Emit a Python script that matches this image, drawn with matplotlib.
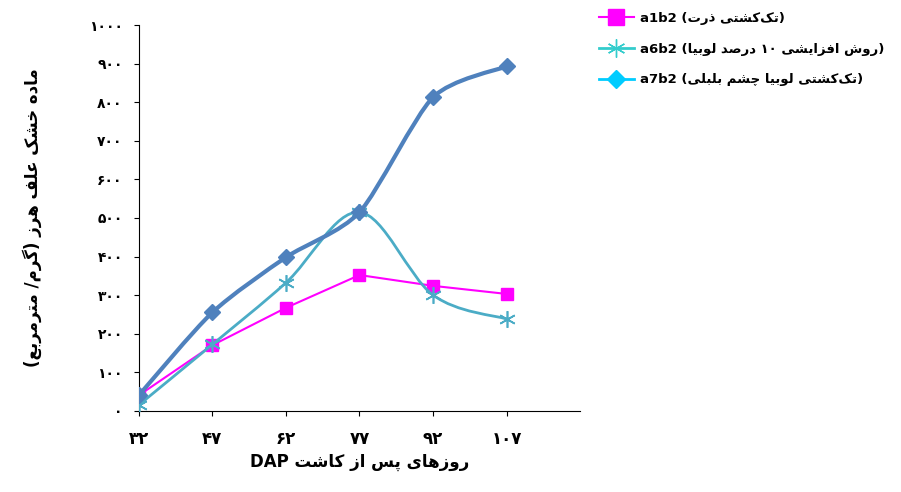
import matplotlib
matplotlib.use("Agg")
import matplotlib.pyplot as plt
from matplotlib.lines import Line2D
from matplotlib.path import Path
from matplotlib.patches import PathPatch

# =============================================================================
# data
# =============================================================================
days = ['۳۲', '۴۷', '۶۲', '۷۷', '۹۲', '۱۰۷']
a1b2 = [40, 170, 267, 352, 324, 303]
a6b2 = [15, 172, 332, 515, 300, 238]
a7b2 = [40, 255, 398, 515, 813, 893]
yticks = [0, 100, 200, 300, 400, 500, 600, 700, 800, 900, 1000]

# =============================================================================
# tiny Persian shaper (matplotlib does no Arabic shaping)
# =============================================================================
F = {
    'ا': (0xFE8D, 0xFE8E, None, None), 'ب': (0xFE8F, 0xFE90, 0xFE91, 0xFE92),
    'ت': (0xFE95, 0xFE96, 0xFE97, 0xFE98), 'ث': (0xFE99, 0xFE9A, 0xFE9B, 0xFE9C),
    'ج': (0xFE9D, 0xFE9E, 0xFE9F, 0xFEA0), 'ح': (0xFEA1, 0xFEA2, 0xFEA3, 0xFEA4),
    'خ': (0xFEA5, 0xFEA6, 0xFEA7, 0xFEA8), 'د': (0xFEA9, 0xFEAA, None, None),
    'ذ': (0xFEAB, 0xFEAC, None, None), 'ر': (0xFEAD, 0xFEAE, None, None),
    'ز': (0xFEAF, 0xFEB0, None, None), 'س': (0xFEB1, 0xFEB2, 0xFEB3, 0xFEB4),
    'ش': (0xFEB5, 0xFEB6, 0xFEB7, 0xFEB8), 'ص': (0xFEB9, 0xFEBA, 0xFEBB, 0xFEBC),
    'ض': (0xFEBD, 0xFEBE, 0xFEBF, 0xFEC0), 'ط': (0xFEC1, 0xFEC2, 0xFEC3, 0xFEC4),
    'ظ': (0xFEC5, 0xFEC6, 0xFEC7, 0xFEC8), 'ع': (0xFEC9, 0xFECA, 0xFECB, 0xFECC),
    'غ': (0xFECD, 0xFECE, 0xFECF, 0xFED0), 'ف': (0xFED1, 0xFED2, 0xFED3, 0xFED4),
    'ق': (0xFED5, 0xFED6, 0xFED7, 0xFED8), 'ل': (0xFEDD, 0xFEDE, 0xFEDF, 0xFEE0),
    'م': (0xFEE1, 0xFEE2, 0xFEE3, 0xFEE4), 'ن': (0xFEE5, 0xFEE6, 0xFEE7, 0xFEE8),
    'ه': (0xFEE9, 0xFEEA, 0xFEEB, 0xFEEC), 'و': (0xFEED, 0xFEEE, None, None),
    'ی': (0xFBFC, 0xFBFD, 0xFBFE, 0xFBFF), 'ک': (0xFB8E, 0xFB8F, 0xFB90, 0xFB91),
    'گ': (0xFB92, 0xFB93, 0xFB94, 0xFB95), 'پ': (0xFB56, 0xFB57, 0xFB58, 0xFB59),
    'چ': (0xFB7A, 0xFB7B, 0xFB7C, 0xFB7D),
}


def fa(s):
    out = []
    for i, c in enumerate(s):
        if c not in F:
            if c != '\u200c':
                out.append(c)
            continue
        p = s[i - 1] if i > 0 else ''
        n = s[i + 1] if i + 1 < len(s) else ''
        jp = p in F and F[p][2] is not None
        jn = F[c][2] is not None and n in F
        f = F[c]
        g = f[3] if (jp and jn) else f[1] if jp else f[2] if jn else f[0]
        out.append(chr(g))
    # reverse, keep digit runs in order, mirror brackets
    toks, cur = [], ''
    for c in out:
        if c.isdigit():
            cur += c
        else:
            if cur:
                toks.append(cur)
                cur = ''
            toks.append({'(': ')', ')': '('}.get(c, c))
    if cur:
        toks.append(cur)
    return ''.join(toks[::-1])


def smooth_path(xs, ys, k=1/6.):
    # Catmull-Rom through the points, like Excel's smoothed line
    verts = [(xs[0], ys[0])]
    codes = [Path.MOVETO]
    n = len(xs)
    for i in range(n - 1):
        x0, y0 = (xs[i - 1], ys[i - 1]) if i > 0 else (xs[i], ys[i])
        x3, y3 = (xs[i + 2], ys[i + 2]) if i + 2 < n else (xs[i + 1], ys[i + 1])
        c1 = (xs[i] + (xs[i + 1] - x0) * k, ys[i] + (ys[i + 1] - y0) * k)
        c2 = (xs[i + 1] - (x3 - xs[i]) * k, ys[i + 1] - (y3 - ys[i]) * k)
        verts += [c1, c2, (xs[i + 1], ys[i + 1])]
        codes += [Path.CURVE4] * 3
    return Path(verts, codes)


plt.rcParams['font.family'] = ['DejaVu Sans']
plt.rcParams['font.weight'] = 'bold'

fig = plt.figure(figsize=(9.01, 4.92), dpi=100)
ax = fig.add_axes([0.154, 0.165, 0.49, 0.784])
x = list(range(len(days)))

ax.plot(x, a1b2, color='#FF00FF', marker='s', markersize=9, lw=1.5, zorder=3)
ax.add_patch(PathPatch(smooth_path(x, a6b2), fill=False, edgecolor='#4BACC6', lw=2, zorder=4))
ax.plot(x, a6b2, ls='none', color='#4BACC6', marker=(6, 2, 0), markersize=12, mew=1.2, zorder=4)
ax.add_patch(PathPatch(smooth_path(x, a7b2, k=1/8.), fill=False, edgecolor='#4F81BD', lw=3, zorder=5))
ax.plot(x, a7b2, ls='none', color='#4F81BD', marker='D', markersize=8, zorder=5)

ax.set_xlim(0, 6)
ax.set_ylim(0, 1000)
ax.set_xticks(x)
ax.set_xticklabels(days, fontsize=12)
ax.set_yticks(yticks)
ax.set_yticklabels([str(v).translate(str.maketrans('0123456789', '۰۱۲۳۴۵۶۷۸۹')) for v in yticks], fontsize=10)
ax.spines['top'].set_visible(False)
ax.spines['right'].set_visible(False)
ax.tick_params(axis='x', pad=10)
ax.tick_params(axis='y', pad=8)
ax.set_xlabel('DAP ' + fa('روزهای پس از کاشت'), fontsize=12, fontweight='bold')
ax.set_ylabel(fa('ماده خشک علف هرز (گرم/ مترمربع)'), fontsize=12, fontweight='bold', labelpad=34)

handles = [
    Line2D([], [], color='#FF00FF', marker='s', markersize=11, lw=1.5),
    Line2D([], [], color='#33CCCC', marker=(6, 2, 0), markersize=13, lw=2),
    Line2D([], [], color='#00CCFF', marker='D', markersize=9, lw=2),
]
labels = [
    'a1b2 ' + fa('(تک‌کشتی ذرت)'),
    'a6b2 ' + fa('(روش افزایشی ۱۰ درصد لوبیا)'),
    'a7b2 ' + fa('(تک‌کشتی لوبیا چشم بلبلی)'),
]
fig.legend(handles, labels, loc='upper left', bbox_to_anchor=(0.652, 1.0), frameon=False,
           fontsize=9.5, handlelength=2.6, handletextpad=0.5, labelspacing=1.35)

fig.savefig('out.png', dpi=100)
